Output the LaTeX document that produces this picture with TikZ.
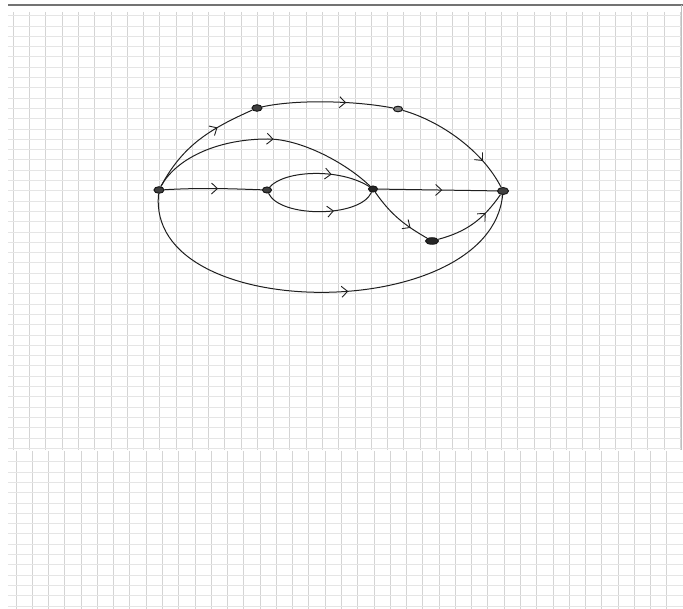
\documentclass[tikz,border=0pt]{standalone}
\usetikzlibrary{arrows.meta,decorations.markings,shapes.geometric}
\begin{document}
\begin{tikzpicture}[x=1pt,y=1pt,
  vline/.style={line width=0.8pt,black!17},
  hline/.style={line width=0.7pt,black!10},
  vtx/.style={ellipse,draw=black!90,fill=black!75,line width=1pt,minimum width=10pt,minimum height=6.5pt,inner sep=0pt},
  link/.style={line width=1pt,black!88},
  mid/.style={postaction={decorate},decoration={markings,mark=at position #1 with {\arrow{Straight Barb[length=6pt,width=11pt,line width=0.9pt]}}}}
]
\useasboundingbox[fill=white] (0,0) rectangle (683,-609);
% grid paper
\foreach \k in {0,...,41} \draw[vline] ({13.3+16.27*\k},-12) -- ({13.3+16.27*\k},-450);
\foreach \k in {0,...,40} \draw[vline] ({16+16.27*\k},-451) -- ({16+16.27*\k},-609);
\foreach \k in {0,...,42} \draw[hline] (8,{-15.6-10.3*\k}) -- (681,{-15.6-10.3*\k});
\foreach \k in {0,...,14} \draw[hline] (8,{-461.7-10.3*\k}) -- (683,{-461.7-10.3*\k});
\draw[line width=1.6pt,black!55] (8,-5) -- (683,-5);
\draw[line width=1pt,black!25] (681,-5) -- (681,-450);
% vertices
\node[vtx] (A) at (159,-190) {};
\node[vtx,minimum width=9pt,minimum height=6pt] (B) at (267,-190) {};
\node[vtx,fill=black!85,minimum width=9pt,minimum height=6pt] (C) at (373,-189) {};
\node[vtx,minimum width=11pt,minimum height=7pt] (D) at (503,-191) {};
\node[vtx,fill=black!85,minimum width=13pt,minimum height=6.5pt] (E) at (432,-241) {};
\node[vtx] (F) at (257,-108) {};
\node[vtx,fill=black!50,minimum width=9pt,minimum height=5.5pt] (G) at (398,-109) {};
% edges
\draw[link,mid=0.68] (A) to[out=62,in=204] (F);
\draw[link,mid=0.64] (F) .. controls (298,-99) and (357,-101) .. (G);
\draw[link,mid=0.75] (G) .. controls (440,-121) and (482,-150) .. (D);
\draw[link,mid=0.54] (A) .. controls (175,-160) and (215,-139) .. (268,-139) .. controls (300,-139) and (345,-162) .. (C);
\draw[link,mid=0.55] (A) to[out=3,in=178] (B);
\draw[link,mid=0.62] (B) .. controls (285,-170) and (340,-168) .. (C);
\draw[link,mid=0.62] (B) .. controls (280,-218) and (360,-218) .. (C);
\draw[link,mid=0.54] (C) -- (D);
\draw[link,mid=0.72] (C) to[out=-55,in=150] (E);
\draw[link,mid=0.7] (E) to[out=15,in=-125] (D);
\draw[link,mid=0.55] (A) .. controls (145,-325) and (490,-325) .. (D);
\end{tikzpicture}
\end{document}
